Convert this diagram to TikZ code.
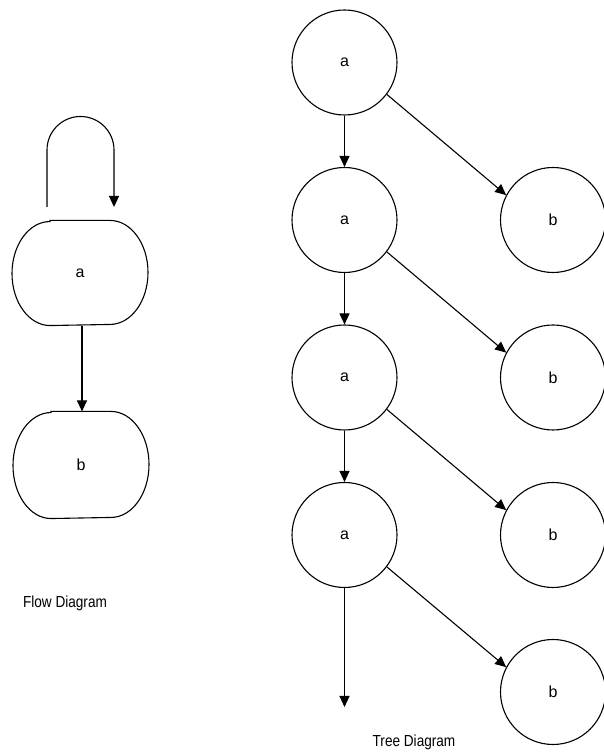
\documentclass[tikz,border=0pt]{standalone}
\usepackage{fontspec}
\setmainfont{Liberation Sans}
\usetikzlibrary{arrows.meta}
\begin{document}
\begin{tikzpicture}[x=1pt,y=1pt,
  line width=1.1pt,
  arr/.style={-{Triangle[width=10pt,length=11pt]}},
  circ/.style={circle,draw,minimum size=105pt,inner sep=0pt,font=\fontsize{16}{18}\selectfont},
  oval/.style={rectangle,draw=none,minimum width=136pt,minimum height=104pt,inner sep=0pt,font=\fontsize{16}{18}\selectfont},
  captxt/.style={font=\fontsize{16}{18}\selectfont,xscale=0.85}
]
\fill[white] (0,0) rectangle (603,754);
\useasboundingbox (0,0) rectangle (603,754);

% Flow diagram
\node[oval] (fa) at (80,481) {a};
\node[oval,minimum height=106pt] (fb) at (81,289) {b};
\foreach \n/\ry in {fa/52,fb/53}{
  \draw ([xshift=-30pt]\n.north) -- ([xshift=30pt]\n.north)
    arc[start angle=90,end angle=-90,x radius=38pt,y radius=\ry pt]
    -- ([xshift=-30pt]\n.south)
    arc[start angle=270,end angle=90,x radius=38pt,y radius=\ry pt] -- cycle;
}
\draw[arr] ([xshift=2pt]fa.south) -- ([xshift=2pt]fa.south |- fb.north);
\coordinate (ls) at (47,547);
\coordinate (le) at (114,547);
\draw[arr] (ls) -- ++(0,57) arc[start angle=180,end angle=0,radius=33.5pt] -- (le);
\node[captxt] (flowcap) at (65,151) {Flow Diagram};

% Tree diagram
\node[circ] (a1) at (344.5,691.5) {a};
\node[circ] (a2) at (344.5,534) {a};
\node[circ] (a3) at (344.5,376.5) {a};
\node[circ] (a4) at (344.5,219) {a};
\node[circ] (b1) at (553,534) {b};
\node[circ] (b2) at (553,376.5) {b};
\node[circ] (b3) at (553,219) {b};
\node[circ] (b4) at (553,62) {b};
\coordinate (tend) at (344.5,47);
\draw[arr] (a1) -- (a2);
\draw[arr] (a2) -- (a3);
\draw[arr] (a3) -- (a4);
\draw[arr] (a4) -- (tend);
\draw[arr] (a1.-37) -- (b1.152);
\draw[arr] (a2.-37) -- (b2.152);
\draw[arr] (a3.-37) -- (b3.152);
\draw[arr] (a4.-37) -- (b4.152);
\node[captxt] (treecap) at (414,12) {Tree Diagram};
\end{tikzpicture}
\end{document}
